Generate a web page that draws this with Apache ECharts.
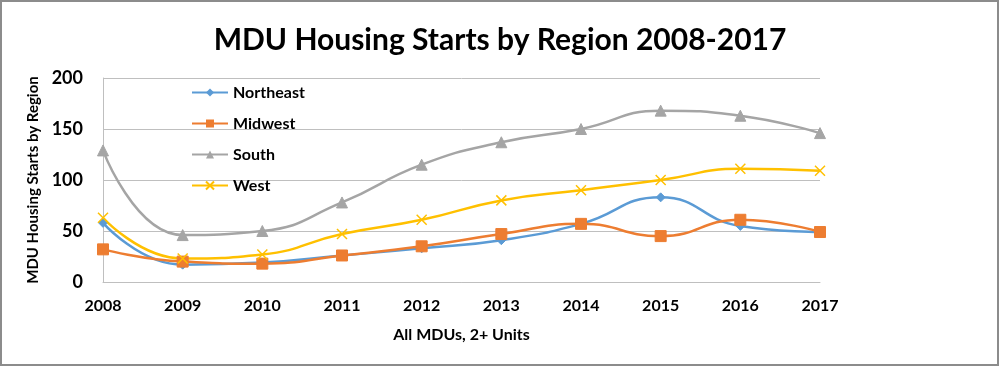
<!DOCTYPE html>
<html><head><meta charset="utf-8">
<script src="https://cdn.jsdelivr.net/npm/echarts@6/dist/echarts.min.js"></script>
<style>html,body{margin:0;padding:0;background:#fff}#c{width:1000px;height:367px}</style>
</head><body><div id="c"></div>
<script>
const years = ['2008','2009','2010','2011','2012','2013','2014','2015','2016','2017'];
const northeast = [58, 17, 19, 26, 33, 41, 57, 83, 55, 49];
const midwest = [32, 20, 18, 26, 35, 47, 57, 45, 61, 49];
const south = [129, 46, 50, 78, 115, 137, 150, 168, 163, 146];
const west = [63, 23, 27, 47, 61, 80, 90, 100, 111, 109];
const yTicks = [0, 50, 100, 150, 200];

const F = 'Lato, "Open Sans", sans-serif';
const xPath = 'path://M0,0L10,10M10,0L0,10';
function mk(name, data, color, symbol, size, extra) {
  return Object.assign({
    name, type: 'line', data, smooth: 0.5, symbol, symbolSize: size,
    lineStyle: { color, width: 2.5 },
    itemStyle: { color, borderColor: color },
    emphasis: { disabled: true }
  }, extra || {});
}
const chart = echarts.init(document.getElementById('c'), null, { renderer: 'canvas' });
chart.setOption({
  animation: false,
  title: {
    text: 'MDU Housing Starts by Region 2008-2017', left: 'center', top: 20,
    textStyle: { fontFamily: F, fontWeight: 'bold', fontSize: 30, color: '#000' }
  },
  legend: {
    orient: 'vertical', left: 186, top: 78, itemGap: 12, itemWidth: 36, itemHeight: 10,
    textStyle: { fontFamily: F, fontWeight: 'bold', fontSize: 16, color: '#000', lineHeight: 19 },
    data: ['Northeast', 'Midwest', 'South', 'West']
  },
  grid: { left: 103, right: 180, top: 78, bottom: 85, containLabel: false },
  xAxis: {
    type: 'category', data: years, boundaryGap: false,
    name: 'All MDUs, 2+ Units', nameLocation: 'middle', nameGap: 45,
    nameTextStyle: { fontFamily: F, fontWeight: 'bold', fontSize: 16, color: '#000' },
    axisLine: { lineStyle: { color: '#bfbfbf', width: 1 } },
    axisTick: { show: false },
    axisLabel: { fontFamily: F, fontWeight: 'bold', fontSize: 16, color: '#000', margin: 16 }
  },
  yAxis: {
    type: 'value', min: yTicks[0], max: yTicks[yTicks.length - 1], interval: 50,
    name: 'MDU Housing Starts by Region', nameLocation: 'middle', nameGap: 59,
    nameTextStyle: { fontFamily: F, fontWeight: 'bold', fontSize: 15, color: '#000' },
    axisLine: { show: true, lineStyle: { color: '#bfbfbf', width: 1 } },
    axisTick: { show: false },
    splitLine: { lineStyle: { color: '#bfbfbf', width: 1 } },
    axisLabel: { fontFamily: F, fontWeight: 'bold', fontSize: 18, color: '#000', margin: 20 }
  },
  series: [
    mk('Northeast', northeast, '#5B9BD5', 'diamond', 9),
    mk('Midwest', midwest, '#ED7D31', 'rect', 11),
    mk('South', south, '#A5A5A5', 'triangle', 11),
    mk('West', west, '#FFC000', xPath, 10, { itemStyle: { color: 'none', borderColor: '#FFC000', borderWidth: 1.5 } })
  ],
  graphic: [{
    type: 'rect', shape: { x: 1, y: 1, width: 997, height: 364 },
    style: { fill: 'none', stroke: '#8c8c8c', lineWidth: 2 }, silent: true
  }]
});
</script></body></html>
